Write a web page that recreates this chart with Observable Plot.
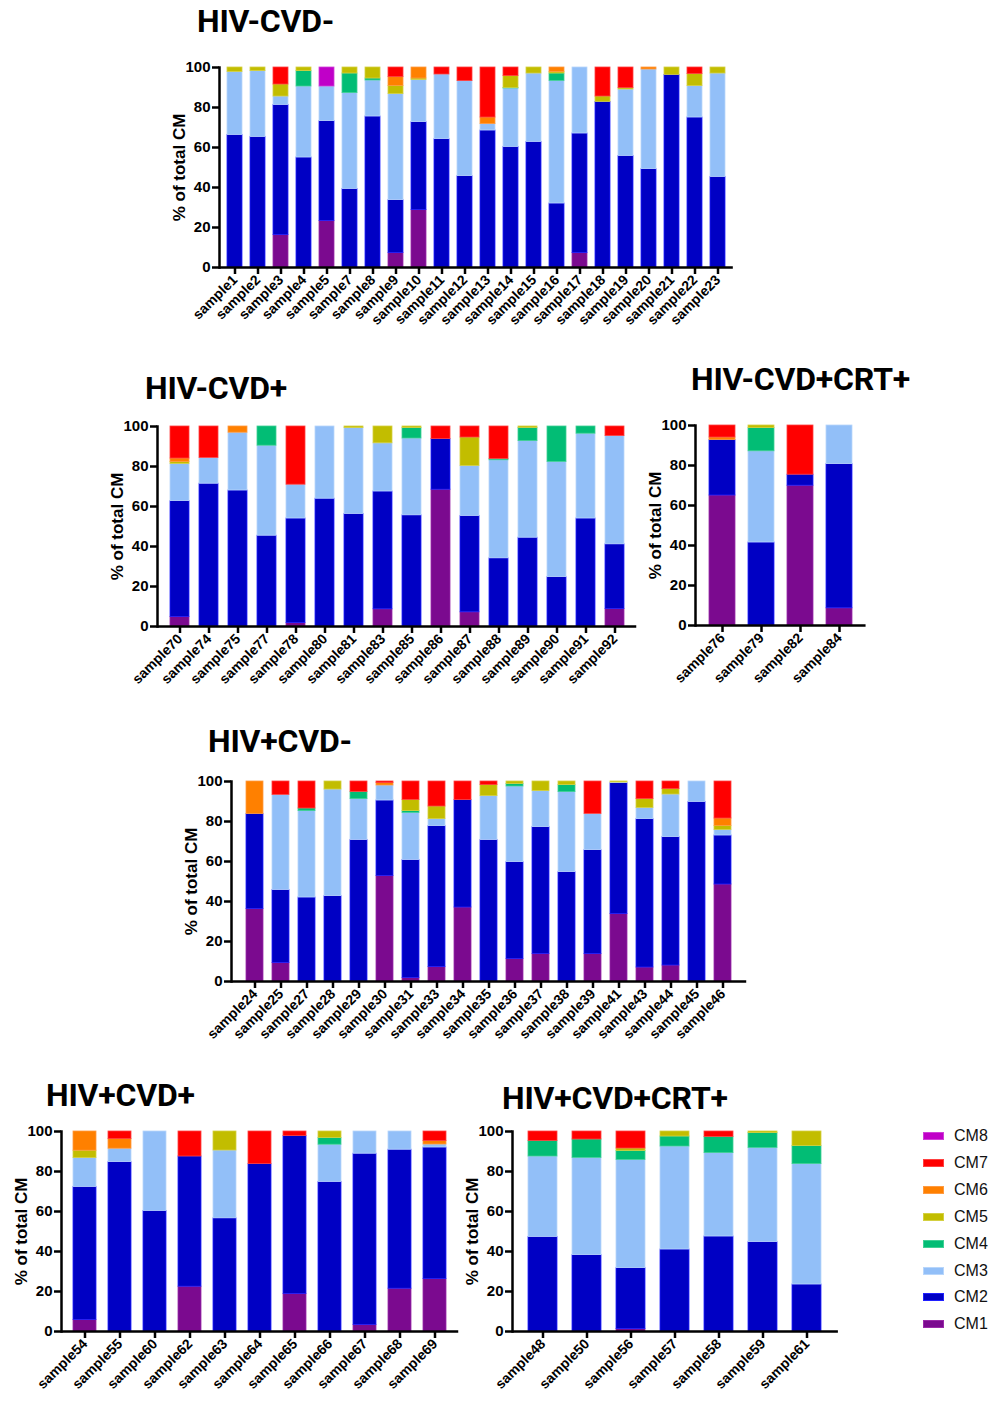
<!DOCTYPE html>
<html><head><meta charset="utf-8">
<script src="https://cdn.jsdelivr.net/npm/d3@7"></script>
<script src="https://cdn.jsdelivr.net/npm/@observablehq/plot@0.6"></script>
<style>
body{margin:0;background:#fff;}
#root{position:relative;width:991px;height:1401px;overflow:hidden;background:#fff;font-family:"Liberation Sans",Arial,sans-serif;}
.title{position:absolute;font-family:Roboto,"Open Sans",sans-serif;font-weight:700;font-size:32px;line-height:1;white-space:nowrap;color:#000;letter-spacing:-0.2px;}
.panel{position:absolute;}
.sw{position:absolute;width:21px;height:8px;}
.lt{position:absolute;font-size:16px;line-height:18px;color:#111;font-family:"Liberation Sans",Arial,sans-serif;}
</style></head><body><div id="root"></div>
<script>
const categories = ["CM1","CM2","CM3","CM4","CM5","CM6","CM7","CM8"];
const fillColors = ["#7b0a8f","#0000c4","#92bff8","#02bd75","#c2bd00","#ff8000","#ff0000","#c000c8"];
const edgeColors = ["#9a2aa8","#2020ff","#b8d6fb","#40d095","#d4d040","#ff9a40","#ff4040","#d040d8"];
const yTicks = [0,20,40,60,80,100];
const yLabel = "% of total CM";

// rows: [CM1, CM2, CM3, CM4, CM5, CM6, CM7, CM8] in %
const g1Samples = ["sample1","sample2","sample3","sample4","sample5","sample7","sample8","sample9","sample10","sample11","sample12","sample13","sample14","sample15","sample16","sample17","sample18","sample19","sample20","sample21","sample22","sample23"];
const g1Values = [
 [0,66.3,31.5,0,2.2,0,0,0],
 [0,65.3,32.9,0,1.8,0,0,0],
 [16.2,65.1,4.2,0,6,0,8.5,0],
 [0,55,35.5,7.7,1.8,0,0,0],
 [23.3,49.9,17.3,0,0,0,0,9.5],
 [0,39.3,47.9,9.8,3,0,0,0],
 [0,75.5,18,1,5.5,0,0,0],
 [7.2,26.5,53,0,4.1,4.4,4.8,0],
 [28.7,44,21.1,0,0.7,5.5,0,0],
 [0,64.2,32.3,0,0,0,3.5,0],
 [0,45.7,47.5,0,0,0,6.8,0],
 [0,68.5,3.2,0,0,3.3,25,0],
 [0,60.3,29.2,0.3,5.9,0,4.3,0],
 [0,62.8,34.2,0,3,0,0,0],
 [0,32,61.3,3.7,0.8,2.2,0,0],
 [7.2,59.8,33,0,0,0,0,0],
 [0,82.8,0,0,2.7,0,14.5,0],
 [0,55.8,33.2,0,0.7,0,10.3,0],
 [0,49.2,49.8,0,0,1,0,0],
 [0,96.3,0,0,3.7,0,0,0],
 [0,75,15.7,0,6,0,3.3,0],
 [0,45.3,51.7,0,3,0,0,0]
];

const g2Samples = ["sample70","sample74","sample75","sample77","sample78","sample80","sample81","sample83","sample85","sample86","sample87","sample88","sample89","sample90","sample91","sample92"];
const g2Values = [
 [4.8,57.9,18.6,0,1,1.7,16,0],
 [0,71.4,12.9,0,0,0,15.7,0],
 [0,68,28.9,0,0,3.1,0,0],
 [0,45.4,45,9.6,0,0,0,0],
 [1.7,52.3,16.9,0,0,0,29.1,0],
 [0,63.9,36.1,0,0,0,0,0],
 [0,56.3,42.9,0,0.8,0,0,0],
 [8.6,58.9,24.1,0,8.4,0,0,0],
 [0,55.6,38.4,5.2,0.8,0,0,0],
 [68.4,25.3,0,0,0,0,6.3,0],
 [7.1,48.2,25,0,14.2,0,5.5,0],
 [0,34.1,49,0.7,0,0,16.2,0],
 [0,44.4,48.3,6.6,0.7,0,0,0],
 [0,24.7,57.6,17.7,0,0,0,0],
 [0,54,42.4,3.6,0,0,0,0],
 [8.8,32.3,54.1,0,0,0,4.8,0]
];

const g3Samples = ["sample76","sample79","sample82","sample84"];
const g3Values = [
 [65,27.7,0,0,0,1.3,6,0],
 [0,41.5,45.6,11.6,1.3,0,0,0],
 [69.9,5.5,0,0,0,0,24.6,0],
 [8.6,72.1,19.3,0,0,0,0,0]
];

const g4Samples = ["sample24","sample25","sample27","sample28","sample29","sample30","sample31","sample33","sample34","sample35","sample36","sample37","sample38","sample39","sample41","sample43","sample44","sample45","sample46"];
const g4Values = [
 [36.3,47.4,0,0,0,16.3,0,0],
 [9.3,36.5,47.5,0,0,0,6.7,0],
 [0,42,43.2,1.3,0,0,13.5,0],
 [0,42.7,53.3,0,4,0,0,0],
 [0,70.8,20.4,3.6,0,0,5.2,0],
 [52.8,37.7,7.5,0,0,1.2,0.8,0],
 [1.8,59,23.5,0.9,5.6,0,9.2,0],
 [7.2,70.5,3.5,0,6.3,0,12.5,0],
 [37,53.7,0,0,0,0,9.3,0],
 [0,70.8,21.9,0,5.5,0,1.8,0],
 [11.3,48.4,37.8,1.3,1.2,0,0,0],
 [13.8,63.4,18,0,4.8,0,0,0],
 [0,54.7,40,3.5,1.8,0,0,0],
 [13.7,52,18.1,0,0,0,16.2,0],
 [33.7,65.5,0.3,0,0.5,0,0,0],
 [7,74.2,5.6,0,4.4,0,8.8,0],
 [8,64.2,21.3,0,2.7,0,3.8,0],
 [0,89.8,10.2,0,0,0,0,0],
 [48.5,24.5,2.8,0,2,3.7,18.5,0]
];

const g5Samples = ["sample54","sample55","sample60","sample62","sample63","sample64","sample65","sample66","sample67","sample68","sample69"];
const g5Values = [
 [5.8,66.5,14.4,0,3.7,9.6,0,0],
 [0,84.7,6.7,0,0,4.8,3.8,0],
 [0,60.3,39.7,0,0,0,0,0],
 [22.4,65.1,0,0,0,0,12.5,0],
 [0,56.6,33.9,0,9.5,0,0,0],
 [0,83.7,0,0,0,0,16.3,0],
 [18.8,78.9,0,0,0,0,2.3,0],
 [0,74.8,18.6,3.4,3.2,0,0,0],
 [3.3,85.6,11.1,0,0,0,0,0],
 [21.4,69.5,9.1,0,0,0,0,0],
 [26.2,65.8,1.5,0,0,1.7,4.8,0]
];

const g6Samples = ["sample48","sample50","sample56","sample57","sample58","sample59","sample61"];
const g6Values = [
 [0,47.3,40.2,7.8,0,0,4.7,0],
 [0,38.2,48.6,9.2,0,0,4,0],
 [1.2,30.5,54.1,4.5,1.2,0,8.5,0],
 [0,41,51.5,5,2.5,0,0,0],
 [0,47.5,41.7,8.1,0,0,2.7,0],
 [0,44.7,47.1,7.4,0.8,0,0,0],
 [0,23.5,60.2,9,7.3,0,0,0]
];

const panels = [
 {title:"HIV-CVD-",     samples:g1Samples, values:g1Values, axisX:219, top:67,   step:23.0,  titleX:197, titleBase:32},
 {title:"HIV-CVD+",     samples:g2Samples, values:g2Values, axisX:157, top:426,  step:29.33, titleX:145, titleBase:399},
 {title:"HIV-CVD+CRT+", samples:g3Samples, values:g3Values, axisX:695, top:425,  step:39.3,  titleX:691, titleBase:390},
 {title:"HIV+CVD-",     samples:g4Samples, values:g4Values, axisX:231, top:781,  step:26.64, titleX:208, titleBase:752},
 {title:"HIV+CVD+",     samples:g5Samples, values:g5Values, axisX:61,  top:1131, step:35.03, titleX:46,  titleBase:1106},
 {title:"HIV+CVD+CRT+", samples:g6Samples, values:g6Values, axisX:512, top:1131, step:44.4,  titleX:502, titleBase:1109}
];

const root = document.getElementById("root");
const ML = 70, MT = 12, MB = 90, MR = 14, H = 200, PI = 0.34, PO = 0.34;

for (const p of panels) {
  const n = p.samples.length;
  const rangeW = p.step * (n - PI + 2 * PO);
  const W = Math.round(ML + rangeW + MR);
  const long = [];
  p.samples.forEach((s, i) => p.values[i].forEach((v, j) => {
    if (v > 0) long.push({sample: s, cm: categories[j], value: v, fill: fillColors[j], stroke: edgeColors[j]});
  }));
  const chart = Plot.plot({
    width: W,
    height: MT + H + MB,
    marginLeft: ML, marginTop: MT, marginBottom: MB, marginRight: W - ML - rangeW,
    style: {fontFamily: "Liberation Sans, Arial, sans-serif", color: "#000", background: "transparent", overflow: "visible"},
    x: {domain: p.samples, paddingInner: PI, paddingOuter: PO, label: null},
    y: {domain: [0, 100], label: null},
    color: {type: "identity"},
    marks: [
      Plot.barY(long, {x: "sample", y: "value", fill: "fill", stroke: "stroke", strokeWidth: 0.8}),
      Plot.axisY({ticks: yTicks, tickSize: 7, tickPadding: 2, fontSize: 15, fontWeight: "bold", strokeWidth: 2.5, label: null}),
      Plot.axisX({tickRotate: -45, tickSize: 7, tickPadding: 3, fontSize: 14, fontWeight: "bold", strokeWidth: 2.5, label: null}),
      Plot.ruleY([0], {strokeWidth: 2.5}),
      Plot.frame({anchor: "left", strokeWidth: 2.5}),
      Plot.text([yLabel], {frameAnchor: "left", dx: -40, rotate: -90, textAnchor: "middle", fontSize: 17, fontWeight: "bold"})
    ]
  });
  const wrap = document.createElement("div");
  wrap.className = "panel";
  wrap.style.left = (p.axisX - ML) + "px";
  wrap.style.top = (p.top - MT) + "px";
  wrap.appendChild(chart);
  root.appendChild(wrap);

  const t = document.createElement("div");
  t.className = "title";
  t.textContent = p.title;
  t.style.left = p.titleX + "px";
  t.style.top = (p.titleBase - 27) + "px";
  root.appendChild(t);
}

// legend (CM8 on top, CM1 at bottom)
const legTop = 1136, legGap = 26.9;
for (let j = categories.length - 1; j >= 0; j--) {
  const r = categories.length - 1 - j;
  const yc = legTop + r * legGap;
  const sw = document.createElement("div");
  sw.className = "sw";
  sw.style.left = "923px";
  sw.style.top = (yc - 4) + "px";
  sw.style.background = fillColors[j];
  sw.style.boxShadow = "inset 0 0 0 1px " + edgeColors[j];
  root.appendChild(sw);
  const lt = document.createElement("div");
  lt.className = "lt";
  lt.style.left = "954px";
  lt.style.top = (yc - 9) + "px";
  lt.textContent = categories[j];
  root.appendChild(lt);
}
</script></body></html>
